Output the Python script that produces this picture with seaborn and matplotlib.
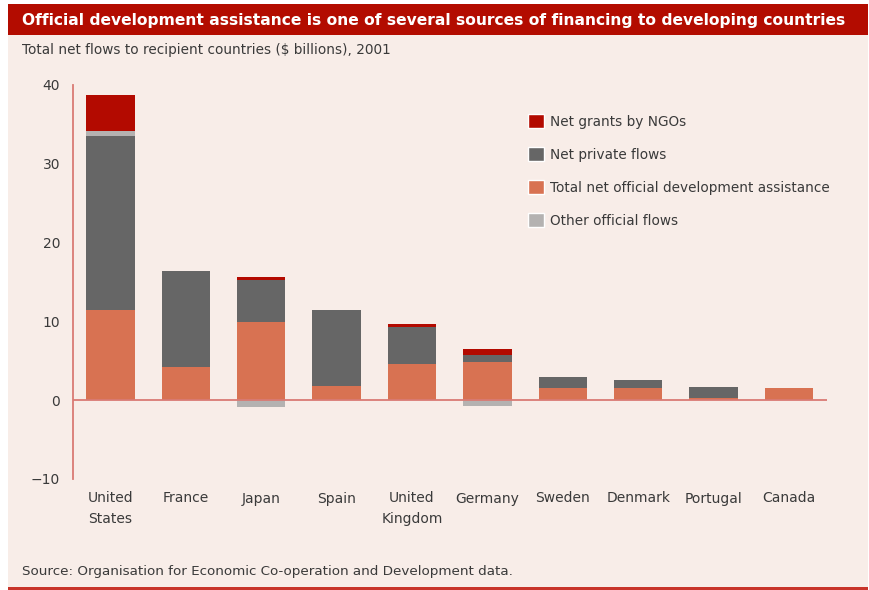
import numpy as np
import pandas as pd
import seaborn as sns
import matplotlib.pyplot as plt
from matplotlib.patches import Rectangle, Patch

# Values ($ billions, 2001)
countries = ["United\nStates", "France", "Japan", "Spain", "United\nKingdom",
             "Germany", "Sweden", "Denmark", "Portugal", "Canada"]
oda = [11.5, 4.2, 9.9, 1.8, 4.6, 4.9, 1.6, 1.6, 0.3, 1.5]
private_flows = [22.0, 12.2, 5.4, 9.7, 4.7, 0.8, 1.4, 1.0, 1.4, 0.0]
other_official = [0.7, 0.0, -0.8, 0.0, 0.0, -0.7, 0.0, 0.0, 0.0, 0.0]
ngo_grants = [4.5, 0.0, 0.35, 0.0, 0.4, 0.75, 0.0, 0.0, 0.0, 0.0]
y_ticks = [-10, 0, 10, 20, 30, 40]

BG = "#F8EDE8"
RED = "#B30C00"
C_NGO = "#B30A00"
C_PRIV = "#666666"
C_ODA = "#D87252"
C_OTHER = "#B4B2B1"
AXIS_RED = "#D97A74"
TEXT = "#3A3A3A"

sns.set_theme(style="white")
plt.rcParams["font.family"] = ["DejaVu Sans"]

# Cumulative layers for stacking (drawn from the top layer down)
df = pd.DataFrame({"country": countries, "oda": oda, "private": private_flows,
                   "other": other_official, "ngo": ngo_grants})
df["other_pos"] = df["other"].clip(lower=0)
df["other_neg"] = df["other"].clip(upper=0)
df["lvl_priv"] = df["oda"] + df["private"]
df["lvl_other"] = df["lvl_priv"] + df["other_pos"]
df["lvl_ngo"] = df["lvl_other"] + df["ngo"]

fig = plt.figure(figsize=(8.69, 5.9), dpi=100, facecolor="white")
W, H = 869, 590
fig.patches.append(Rectangle((8 / W, 0), 860 / W, 586 / H, transform=fig.transFigure,
                             facecolor=BG, edgecolor="none", zorder=-2))
fig.patches.append(Rectangle((8 / W, 1 - 35 / H), 860 / W, 31 / H, transform=fig.transFigure,
                             facecolor=RED, edgecolor="none", zorder=-1))
fig.patches.append(Rectangle((8 / W, 0), 860 / W, 3 / H, transform=fig.transFigure,
                             facecolor="#C8342A", edgecolor="none", zorder=-1))

ax = fig.add_axes([72.7 / W, 1 - 479 / H, 754 / W, 394 / H])
ax.set_facecolor("none")

bw = 0.64
for col, color in [("lvl_ngo", C_NGO), ("lvl_other", C_OTHER),
                   ("lvl_priv", C_PRIV), ("oda", C_ODA), ("other_neg", C_OTHER)]:
    sns.barplot(data=df, x="country", y=col, color=color, width=bw,
                linewidth=0, saturation=1, ax=ax, zorder=2)

ax.set_xlim(-0.5, 9.5)
ax.set_ylim(-10, 40)
ax.set_yticks(y_ticks)
ax.set_yticklabels([str(t).replace("-", "\u2212") for t in y_ticks])
ax.axhline(0, color=AXIS_RED, lw=1.3, zorder=3)
ax.set_xlabel("")
ax.set_ylabel("")

for s in ["top", "right", "bottom"]:
    ax.spines[s].set_visible(False)
ax.spines["left"].set_color(AXIS_RED)
ax.spines["left"].set_linewidth(1.3)

ax.tick_params(axis="y", length=0, pad=9, labelsize=10, labelcolor=TEXT)
ax.tick_params(axis="x", length=0, pad=9, labelsize=10, labelcolor=TEXT)
for lab in ax.get_xticklabels():
    lab.set_linespacing(1.6)
    lab.set_multialignment("center")

handles = [Patch(facecolor=C_NGO, label="Net grants by NGOs"),
           Patch(facecolor=C_PRIV, label="Net private flows"),
           Patch(facecolor=C_ODA, label="Total net official development assistance"),
           Patch(facecolor=C_OTHER, label="Other official flows")]
fig.legend(handles=handles, loc="upper left", bbox_to_anchor=(528 / W, 1 - 114 / H),
           frameon=False, fontsize=9.8, handlelength=1.2, handleheight=1.2,
           handletextpad=0.4, labelspacing=1.36, borderpad=0, borderaxespad=0,
           labelcolor=TEXT)

fig.text(22 / W, 1 - 20 / H,
         "Official development assistance is one of several sources of financing to developing countries",
         color="white", fontsize=11.2, fontweight="bold", va="center", ha="left")
fig.text(22 / W, 1 - 50 / H, "Total net flows to recipient countries ($ billions), 2001",
         color=TEXT, fontsize=9.8, va="center", ha="left")
fig.text(22 / W, 1 - 571 / H, "Source: Organisation for Economic Co-operation and Development data.",
         color=TEXT, fontsize=9.7, va="center", ha="left")

fig.savefig("out.png", dpi=100, facecolor="white")
